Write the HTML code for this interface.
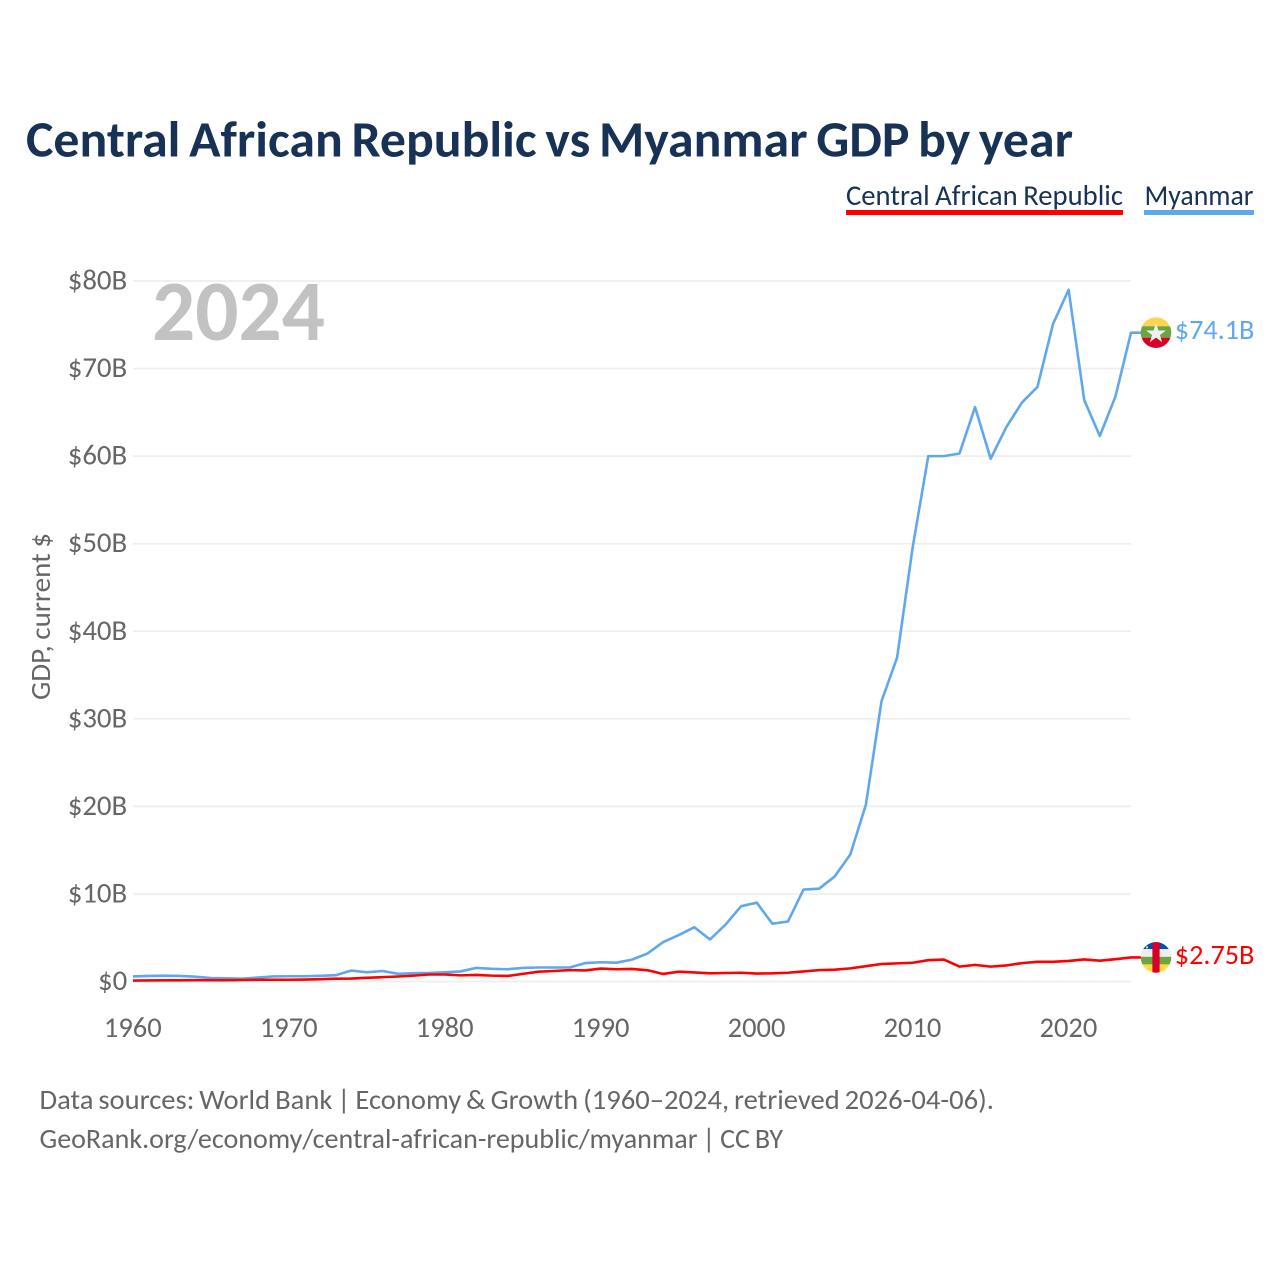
<!DOCTYPE html>
<html lang="en">
<head>
<meta charset="utf-8">
<title>Central African Republic vs Myanmar GDP by year</title>
<style>
html,body{margin:0;padding:0;background:#fff;}
svg{display:block;}
text{font-family:"Carlito","Lato","Liberation Sans",sans-serif;}
</style>
</head>
<body>
<svg id="chart" xmlns="http://www.w3.org/2000/svg" width="1280" height="1280" viewBox="0 0 1280 1280">
  <rect x="0" y="0" width="1280" height="1280" fill="#ffffff"/>
  <text x="26" y="156.5" font-size="51" font-weight="700" fill="#173254" word-spacing="-3" textLength="1047" lengthAdjust="spacingAndGlyphs">Central African Republic vs Myanmar GDP by year</text>

  <g>
    <text x="846" y="205" font-size="28.5" fill="#173254" word-spacing="-1" textLength="277" lengthAdjust="spacingAndGlyphs">Central African Republic</text>
    <rect x="846" y="210" width="277" height="5" fill="#ff0000"/>
  </g>
  <g>
    <text x="1144.5" y="205" font-size="28.5" fill="#173254" textLength="109" lengthAdjust="spacingAndGlyphs">Myanmar</text>
    <rect x="1144" y="210" width="110" height="5" fill="#60a8ee"/>
  </g>

  <g id="grid"></g>
  <g id="yticks"></g>
  <g id="xticks"></g>

  <text transform="translate(50,700) rotate(-90)" font-size="28" fill="#666666" word-spacing="-1" textLength="167" lengthAdjust="spacingAndGlyphs">GDP, current $</text>
  <text x="152" y="340" font-size="86" font-weight="700" fill="#c2c2c2" textLength="173" lengthAdjust="spacingAndGlyphs">2024</text>

  <g id="series"></g>

  <g id="flag-mm">
    <clipPath id="clip-mm"><circle cx="0" cy="0" r="15.3"/></clipPath>
    <g clip-path="url(#clip-mm)">
      <rect x="-16" y="-16" width="32" height="9.6" fill="#ffd34d"/>
      <rect x="-16" y="-6.4" width="32" height="11.4" fill="#6da544"/>
      <rect x="-16" y="5" width="32" height="11" fill="#d80027"/>
      <polygon points="0,-9.5 2.4,-2.2 10,-2.2 3.9,2.3 6.1,9.5 0,5 -6.1,9.5 -3.9,2.3 -10,-2.2 -2.4,-2.2" fill="#f0f0f0"/>
    </g>
  </g>
  <g id="flag-cf">
    <clipPath id="clip-cf"><circle cx="0" cy="0" r="15.3"/></clipPath>
    <g clip-path="url(#clip-cf)">
      <rect x="-16" y="-16" width="32" height="7.7" fill="#0052b4"/>
      <rect x="-16" y="-8.3" width="32" height="7.7" fill="#eeeeee"/>
      <rect x="-16" y="-0.6" width="32" height="7.6" fill="#6da544"/>
      <rect x="-16" y="7" width="32" height="9" fill="#ffda44"/>
      <rect x="-3.6" y="-16" width="7.2" height="32" fill="#d80027"/>
      <rect x="-10" y="-11" width="2" height="2" fill="#ffda44"/>
    </g>
  </g>
  <text id="label-mm" x="1174.8" font-size="28.2" fill="#60a8ee"></text>
  <text id="label-cf" x="1174.8" font-size="28.2" fill="#ff0000"></text>

  <text x="39.5" y="1109" font-size="28.2" fill="#666666" word-spacing="-1.5" textLength="954.5" lengthAdjust="spacingAndGlyphs">Data sources: World Bank | Economy &amp; Growth (1960–2024, retrieved 2026-04-06).</text>
  <text x="39.5" y="1148" font-size="28.2" fill="#666666" word-spacing="-1.5" textLength="743.5" lengthAdjust="spacingAndGlyphs">GeoRank.org/economy/central-african-republic/myanmar | CC BY</text>
</svg>
<script>
const years = [1960,1961,1962,1963,1964,1965,1966,1967,1968,1969,1970,1971,1972,1973,1974,1975,1976,1977,1978,1979,1980,1981,1982,1983,1984,1985,1986,1987,1988,1989,1990,1991,1992,1993,1994,1995,1996,1997,1998,1999,2000,2001,2002,2003,2004,2005,2006,2007,2008,2009,2010,2011,2012,2013,2014,2015,2016,2017,2018,2019,2020,2021,2022,2023,2024];
const myanmar = [0.58,0.64,0.66,0.64,0.55,0.4,0.36,0.32,0.45,0.58,0.6,0.6,0.65,0.72,1.25,1.05,1.2,0.88,0.95,0.98,1.05,1.15,1.55,1.45,1.4,1.55,1.6,1.6,1.6,2.1,2.2,2.15,2.5,3.2,4.5,5.3,6.2,4.8,6.5,8.6,9.0,6.6,6.85,10.5,10.6,12.0,14.5,20.2,32.0,37.0,49.6,60.0,60.0,60.3,65.6,59.7,63.3,66.1,67.9,75.1,79.0,66.4,62.3,66.8,74.1];
const car = [0.11,0.12,0.13,0.14,0.15,0.15,0.15,0.17,0.2,0.2,0.2,0.22,0.26,0.32,0.33,0.42,0.5,0.57,0.67,0.8,0.8,0.7,0.75,0.67,0.63,0.87,1.12,1.2,1.3,1.26,1.48,1.4,1.43,1.28,0.86,1.12,1.03,0.93,0.97,1.0,0.91,0.93,1.0,1.15,1.3,1.35,1.5,1.75,2.0,2.07,2.14,2.43,2.5,1.7,1.9,1.7,1.83,2.1,2.25,2.25,2.35,2.52,2.38,2.55,2.75];
const yTickValues = [0,10,20,30,40,50,60,70,80];
const yTickLabels = ["$0","$10B","$20B","$30B","$40B","$50B","$60B","$70B","$80B"];
const xTickValues = [1960,1970,1980,1990,2000,2010,2020];
const xTickLabels = ["1960","1970","1980","1990","2000","2010","2020"];
const endLabels = ["$74.1B","$2.75B"];

const SVG_NS = "http://www.w3.org/2000/svg";
const plotLeft = 133, plotRight = 1131, plotBottom = 981.5, plotTop = 281;
const xScale = function (year) {
  return plotLeft + (year - years[0]) / (years[years.length - 1] - years[0]) * (plotRight - plotLeft);
};
const yScale = function (value) {
  return plotBottom - value / 80 * (plotBottom - plotTop);
};

const gridGroup = document.getElementById("grid");
const yGroup = document.getElementById("yticks");
const xGroup = document.getElementById("xticks");
const seriesGroup = document.getElementById("series");

yTickValues.forEach(function (v, i) {
  const line = document.createElementNS(SVG_NS, "line");
  line.setAttribute("x1", plotLeft);
  line.setAttribute("x2", plotRight);
  line.setAttribute("y1", yScale(v));
  line.setAttribute("y2", yScale(v));
  line.setAttribute("stroke", "#eeeeee");
  line.setAttribute("stroke-width", "1.7");
  
  
  gridGroup.appendChild(line);

  const label = document.createElementNS(SVG_NS, "text");
  label.textContent = yTickLabels[i];
  label.setAttribute("x", 127.2);
  label.setAttribute("y", yScale(v) + 8.5);
  label.setAttribute("text-anchor", "end");
  label.setAttribute("font-size", "28.8");
  label.setAttribute("fill", "#666666");
  
  
  yGroup.appendChild(label);
});

xTickValues.forEach(function (year, i) {
  const label = document.createElementNS(SVG_NS, "text");
  label.textContent = xTickLabels[i];
  label.setAttribute("x", xScale(year) - 0.2);
  label.setAttribute("y", 1037);
  label.setAttribute("text-anchor", "middle");
  label.setAttribute("font-size", "28.5");
  label.setAttribute("fill", "#666666");
  
  
  xGroup.appendChild(label);
});

function linePoints(values) {
  const pts = values.map(function (v, i) {
    return xScale(years[i]).toFixed(2) + "," + yScale(v).toFixed(2);
  });
  pts.push("1141," + yScale(values[values.length - 1]).toFixed(2));
  return pts.join(" ");
}

const myanmarLine = document.createElementNS(SVG_NS, "polyline");
myanmarLine.setAttribute("points", linePoints(myanmar));
myanmarLine.setAttribute("fill", "none");
myanmarLine.setAttribute("stroke", "#60a8ee");
myanmarLine.setAttribute("stroke-width", "2.6");
myanmarLine.setAttribute("stroke-linejoin", "round");


seriesGroup.appendChild(myanmarLine);

const carLine = document.createElementNS(SVG_NS, "polyline");
carLine.setAttribute("points", linePoints(car));
carLine.setAttribute("fill", "none");
carLine.setAttribute("stroke", "#ff0000");
carLine.setAttribute("stroke-width", "2.6");
carLine.setAttribute("stroke-linejoin", "round");


seriesGroup.appendChild(carLine);

const mmY = yScale(myanmar[myanmar.length - 1]);
const cfY = yScale(car[car.length - 1]);
document.getElementById("flag-mm").setAttribute("transform", "translate(1156," + mmY + ")");
document.getElementById("flag-cf").setAttribute("transform", "translate(1156," + cfY + ")");
const labelMm = document.getElementById("label-mm");
labelMm.textContent = endLabels[0];
labelMm.setAttribute("y", mmY + 6.5);
const labelCf = document.getElementById("label-cf");
labelCf.textContent = endLabels[1];
labelCf.setAttribute("y", cfY + 6.5);
</script>
</body>
</html>
